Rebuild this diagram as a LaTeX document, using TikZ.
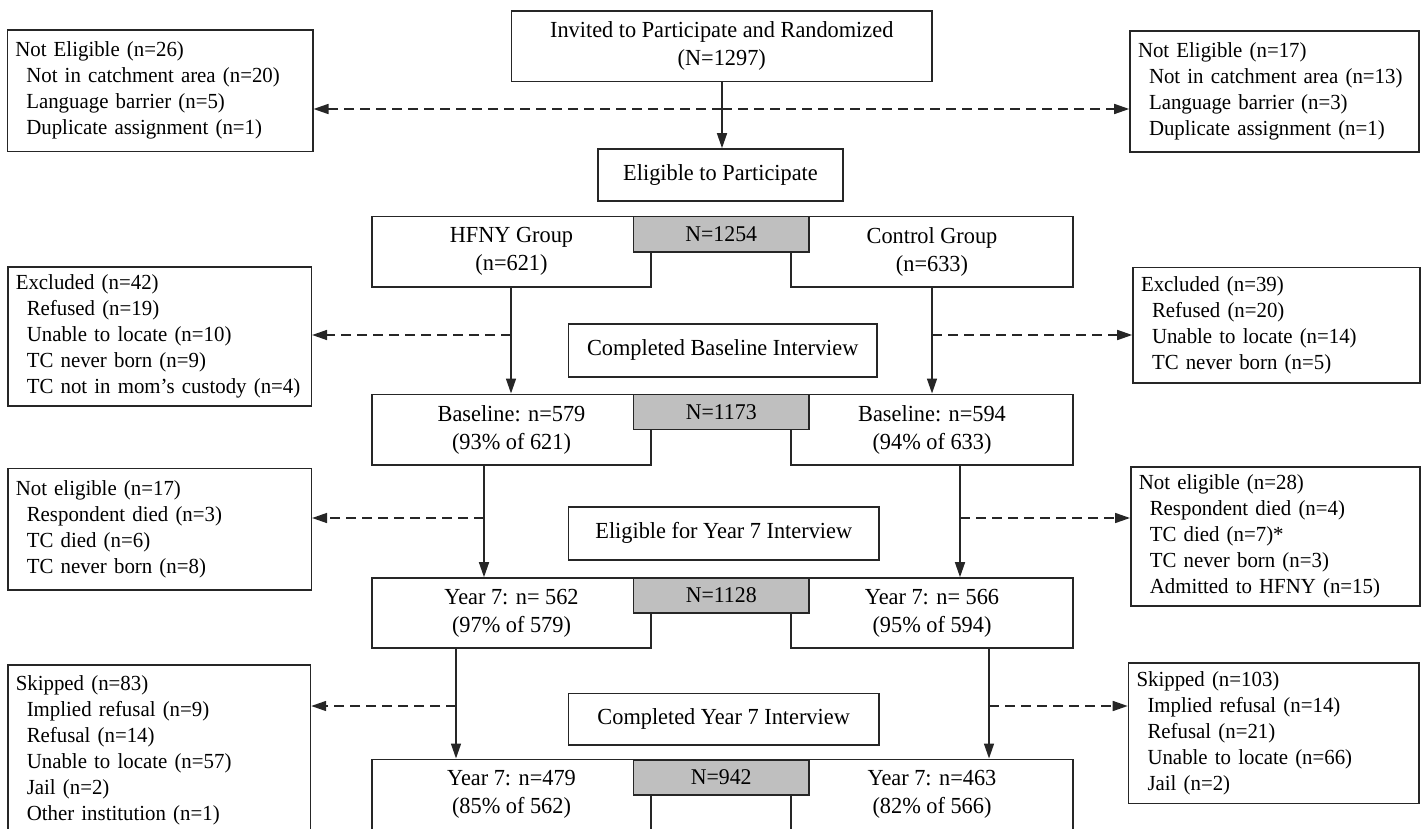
\documentclass[tikz,border=0pt]{standalone}
\usepackage{fontspec}
\setmainfont{Liberation Serif}[FakeStretch=0.97]
\usetikzlibrary{arrows.meta,calc}
\begin{document}
\begin{tikzpicture}[x=1pt,y=-1pt,
  cbox/.style={draw=black!85, line width=1.6pt, fill=white, inner sep=0pt, align=center,
    font=\fontsize{23}{28}\selectfont},
  gbox/.style={draw=black!85, line width=1.6pt, fill=black!25, inner sep=0pt, align=center,
    font=\fontsize{22.5}{27}\selectfont},
  sbox/.style={draw=black!85, line width=1.6pt, fill=white, inner xsep=8pt, inner ysep=0pt,
    align=left, font=\fontsize{21.5}{26}\selectfont},
  flow/.style={draw=black!85, line width=1.5pt, -{Triangle[length=15pt,width=10pt]}},
  dflow/.style={draw=black!85, line width=1.6pt, dash pattern=on 10pt off 6pt,
    -{Triangle[length=15pt,width=10pt]}}
]
\useasboundingbox (0,0) rectangle (1424,829);
\clip (0,0) rectangle (1424,829);
\newcommand{\ind}{\hspace*{11pt}}

% ---- centre column
\node[cbox, minimum width=420.5pt, minimum height=70.7pt] (inv) at (721.75,46.35)
  {Invited to Participate and Randomized\\(N=1297)};
\node[cbox, minimum width=245pt, minimum height=52pt] (elig) at (720.5,175) {Eligible to Participate};

\node[cbox, minimum width=279pt, minimum height=70pt] (hfny) at (511.5,251.7) {HFNY Group\\(n=621)};
\node[cbox, minimum width=282pt, minimum height=70pt] (ctrl) at (932,251.7) {Control Group\\(n=633)};
\node[gbox, minimum width=175.5pt, minimum height=35pt] (g1) at (721.25,234.2) {N=1254};

\node[cbox, minimum width=308.5pt, minimum height=52.7pt] (cbase) at (722.75,350.35) {Completed Baseline Interview};

\node[cbox, minimum width=279pt, minimum height=70.7pt] (baseL) at (511.5,429.65) {Baseline: n=579\\(93\% of 621)};
\node[cbox, minimum width=282pt, minimum height=70.7pt] (baseR) at (932,429.65) {Baseline: n=594\\(94\% of 633)};
\node[gbox, minimum width=175.5pt, minimum height=35pt] (g2) at (721.25,412) {N=1173};

\node[cbox, minimum width=310.5pt, minimum height=53.3pt] (ey7) at (723.75,533.35) {Eligible for Year 7 Interview};

\node[cbox, minimum width=279pt, minimum height=69.7pt] (y7L) at (511.5,612.85) {Year 7: n= 562\\(97\% of 579)};
\node[cbox, minimum width=282pt, minimum height=69.7pt] (y7R) at (932,612.85) {Year 7: n= 566\\(95\% of 594)};
\node[gbox, minimum width=175.5pt, minimum height=34.5pt] (g3) at (721.25,595.5) {N=1128};

\node[cbox, minimum width=310.7pt, minimum height=51.7pt] (cy7) at (723.65,719.15) {Completed Year 7 Interview};

\node[cbox, minimum width=279pt, minimum height=70pt] (fL) at (511.5,794.3) {Year 7: n=479\\(85\% of 562)};
\node[cbox, minimum width=282pt, minimum height=70pt] (fR) at (932,794.3) {Year 7: n=463\\(82\% of 566)};
\node[gbox, minimum width=175.5pt, minimum height=35pt] (g4) at (721.25,777.5) {N=942};

% ---- side boxes
\node[sbox, text width=289.4pt, minimum height=121.7pt] (ne1) at (160,90.85)
  {Not Eligible (n=26)\\\ind Not in catchment area (n=20)\\\ind Language barrier (n=5)\\\ind Duplicate assignment (n=1)};
\node[sbox, text width=273pt, minimum height=121.3pt] (ne2) at (1274.5,91.65)
  {Not Eligible (n=17)\\\ind Not in catchment area (n=13)\\\ind Language barrier (n=3)\\\ind Duplicate assignment (n=1)};

\node[sbox, text width=287.5pt, minimum height=139.3pt] (ex1) at (159.55,336.35)
  {Excluded (n=42)\\\ind Refused (n=19)\\\ind Unable to locate (n=10)\\\ind TC never born (n=9)\\\ind\mbox{TC not in mom's custody (n=4)}};
\node[sbox, text width=271pt, minimum height=115.4pt] (ex2) at (1276.5,325)
  {Excluded (n=39)\\\ind Refused (n=20)\\\ind Unable to locate (n=14)\\\ind TC never born (n=5)};

\node[sbox, text width=287.5pt, minimum height=121.7pt] (nel) at (159.55,529.15)
  {Not eligible (n=17)\\\ind Respondent died (n=3)\\\ind TC died (n=6)\\\ind TC never born (n=8)};
\node[sbox, text width=273.2pt, minimum height=139.3pt] (ner) at (1275.4,536.35)
  {Not eligible (n=28)\\\ind Respondent died (n=4)\\\ind TC died (n=7)*\\\ind TC never born (n=3)\\\ind Admitted to HFNY (n=15)};

\node[sbox, text width=286.6pt, minimum height=170pt] (sk1) at (159.1,750)
  {Skipped (n=83)\\\ind Implied refusal (n=9)\\\ind Refusal (n=14)\\\ind Unable to locate (n=57)\\\ind Jail (n=2)\\\ind Other institution (n=1)};
\node[sbox, text width=274.5pt, minimum height=140.6pt] (sk2) at (1273.75,733)
  {Skipped (n=103)\\\ind Implied refusal (n=14)\\\ind Refusal (n=21)\\\ind Unable to locate (n=66)\\\ind Jail (n=2)};

% ---- connectors
\coordinate (d0) at (722,109);
\draw[flow] (inv.south -| d0) -- (elig.north -| d0);
\draw[dflow] (d0) -- (d0 -| ne1.east);
\draw[dflow] (d0) -- (d0 -| ne2.west);

\coordinate (d1) at (511,335);
\draw[flow] (hfny.south -| d1) -- (baseL.north -| d1);
\draw[dflow] (d1) -- (d1 -| ex1.east);
\coordinate (d2) at (932,335);
\draw[flow] (ctrl.south -| d2) -- (baseR.north -| d2);
\draw[dflow] (d2) -- (d2 -| ex2.west);

\coordinate (xL2) at (484,518);
\draw[flow] (baseL.south -| xL2) -- (y7L.north -| xL2);
\draw[dflow] (xL2) -- (xL2 -| nel.east);
\coordinate (xR2) at (960,518);
\draw[flow] (baseR.south -| xR2) -- (y7R.north -| xR2);
\draw[dflow] (xR2) -- (xR2 -| ner.west);

\coordinate (xL3) at (456,706);
\draw[flow] (y7L.south -| xL3) -- (fL.north -| xL3);
\draw[dflow] (xL3) -- (xL3 -| sk1.east);
\coordinate (xR3) at (989,706);
\draw[flow] (y7R.south -| xR3) -- (fR.north -| xR3);
\draw[dflow] (xR3) -- (xR3 -| sk2.west);
\end{tikzpicture}
\end{document}
